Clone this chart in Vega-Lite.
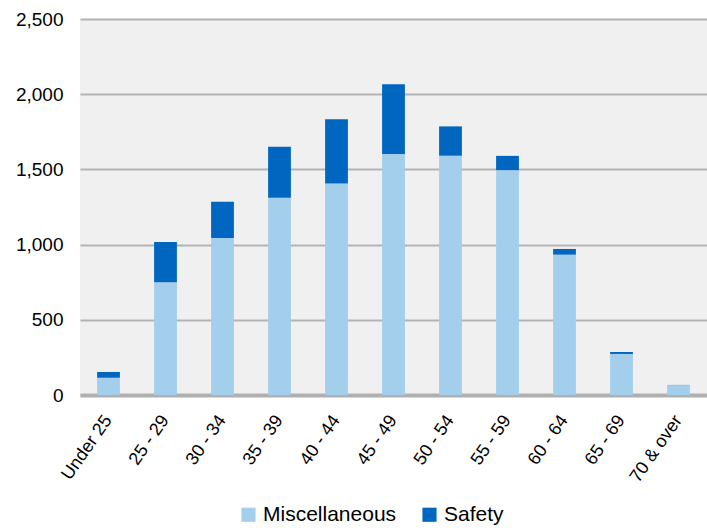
{
  "$schema": "https://vega.github.io/schema/vega-lite/v6.json",
  "width": 627,
  "height": 376,
  "autosize": {"type": "none"},
  "padding": {"left": 80, "top": 19, "right": 0, "bottom": 135},
  "background": "white",
  "config": {
    "view": {"fill": "#f0f0f0", "stroke": null},
    "font": "Liberation Sans"
  },
  "data": {
    "values": [
      {"age": "Under 25", "type": "Miscellaneous", "value": 115},
      {"age": "Under 25", "type": "Safety", "value": 38},
      {"age": "25 - 29", "type": "Miscellaneous", "value": 749},
      {"age": "25 - 29", "type": "Safety", "value": 268},
      {"age": "30 - 34", "type": "Miscellaneous", "value": 1044},
      {"age": "30 - 34", "type": "Safety", "value": 241},
      {"age": "35 - 39", "type": "Miscellaneous", "value": 1312},
      {"age": "35 - 39", "type": "Safety", "value": 339},
      {"age": "40 - 44", "type": "Miscellaneous", "value": 1407},
      {"age": "40 - 44", "type": "Safety", "value": 426},
      {"age": "45 - 49", "type": "Miscellaneous", "value": 1602},
      {"age": "45 - 49", "type": "Safety", "value": 464},
      {"age": "50 - 54", "type": "Miscellaneous", "value": 1591},
      {"age": "50 - 54", "type": "Safety", "value": 195},
      {"age": "55 - 59", "type": "Miscellaneous", "value": 1495},
      {"age": "55 - 59", "type": "Safety", "value": 95},
      {"age": "60 - 64", "type": "Miscellaneous", "value": 933},
      {"age": "60 - 64", "type": "Safety", "value": 38},
      {"age": "65 - 69", "type": "Miscellaneous", "value": 273},
      {"age": "65 - 69", "type": "Safety", "value": 13},
      {"age": "70 & over", "type": "Miscellaneous", "value": 66},
      {"age": "70 & over", "type": "Safety", "value": 1}
    ]
  },
  "mark": {"type": "bar"},
  "encoding": {
    "x": {
      "field": "age",
      "type": "nominal",
      "sort": null,
      "scale": {"paddingInner": 0.6, "paddingOuter": 0.3},
      "axis": {
        "title": null,
        "labelAngle": -55,
        "labelFontSize": 18,
        "labelColor": "#000000",
        "ticks": false,
        "domainColor": "#b0b0b0",
        "domainWidth": 4,
        "labelPadding": 22,
        "grid": false
      }
    },
    "y": {
      "field": "value",
      "type": "quantitative",
      "stack": "zero",
      "scale": {"domain": [0, 2500]},
      "axis": {
        "title": null,
        "values": [0, 500, 1000, 1500, 2000, 2500],
        "format": ",d",
        "labelFontSize": 19,
        "labelColor": "#000000",
        "ticks": false,
        "domain": false,
        "gridColor": "#b3b3b3",
        "gridWidth": 2,
        "labelPadding": 17
      }
    },
    "order": {"field": "type", "sort": "ascending"},
    "color": {
      "field": "type",
      "type": "nominal",
      "scale": {"domain": ["Miscellaneous", "Safety"], "range": ["#a3cfec", "#0066bf"]},
      "legend": {
        "title": null,
        "orient": "none",
        "legendX": 158,
        "legendY": 485,
        "direction": "horizontal",
        "symbolType": "square",
        "symbolSize": 200,
        "symbolStrokeWidth": 0,
        "labelFontSize": 21,
        "labelColor": "#000000",
        "columnPadding": 22
      }
    }
  }
}
